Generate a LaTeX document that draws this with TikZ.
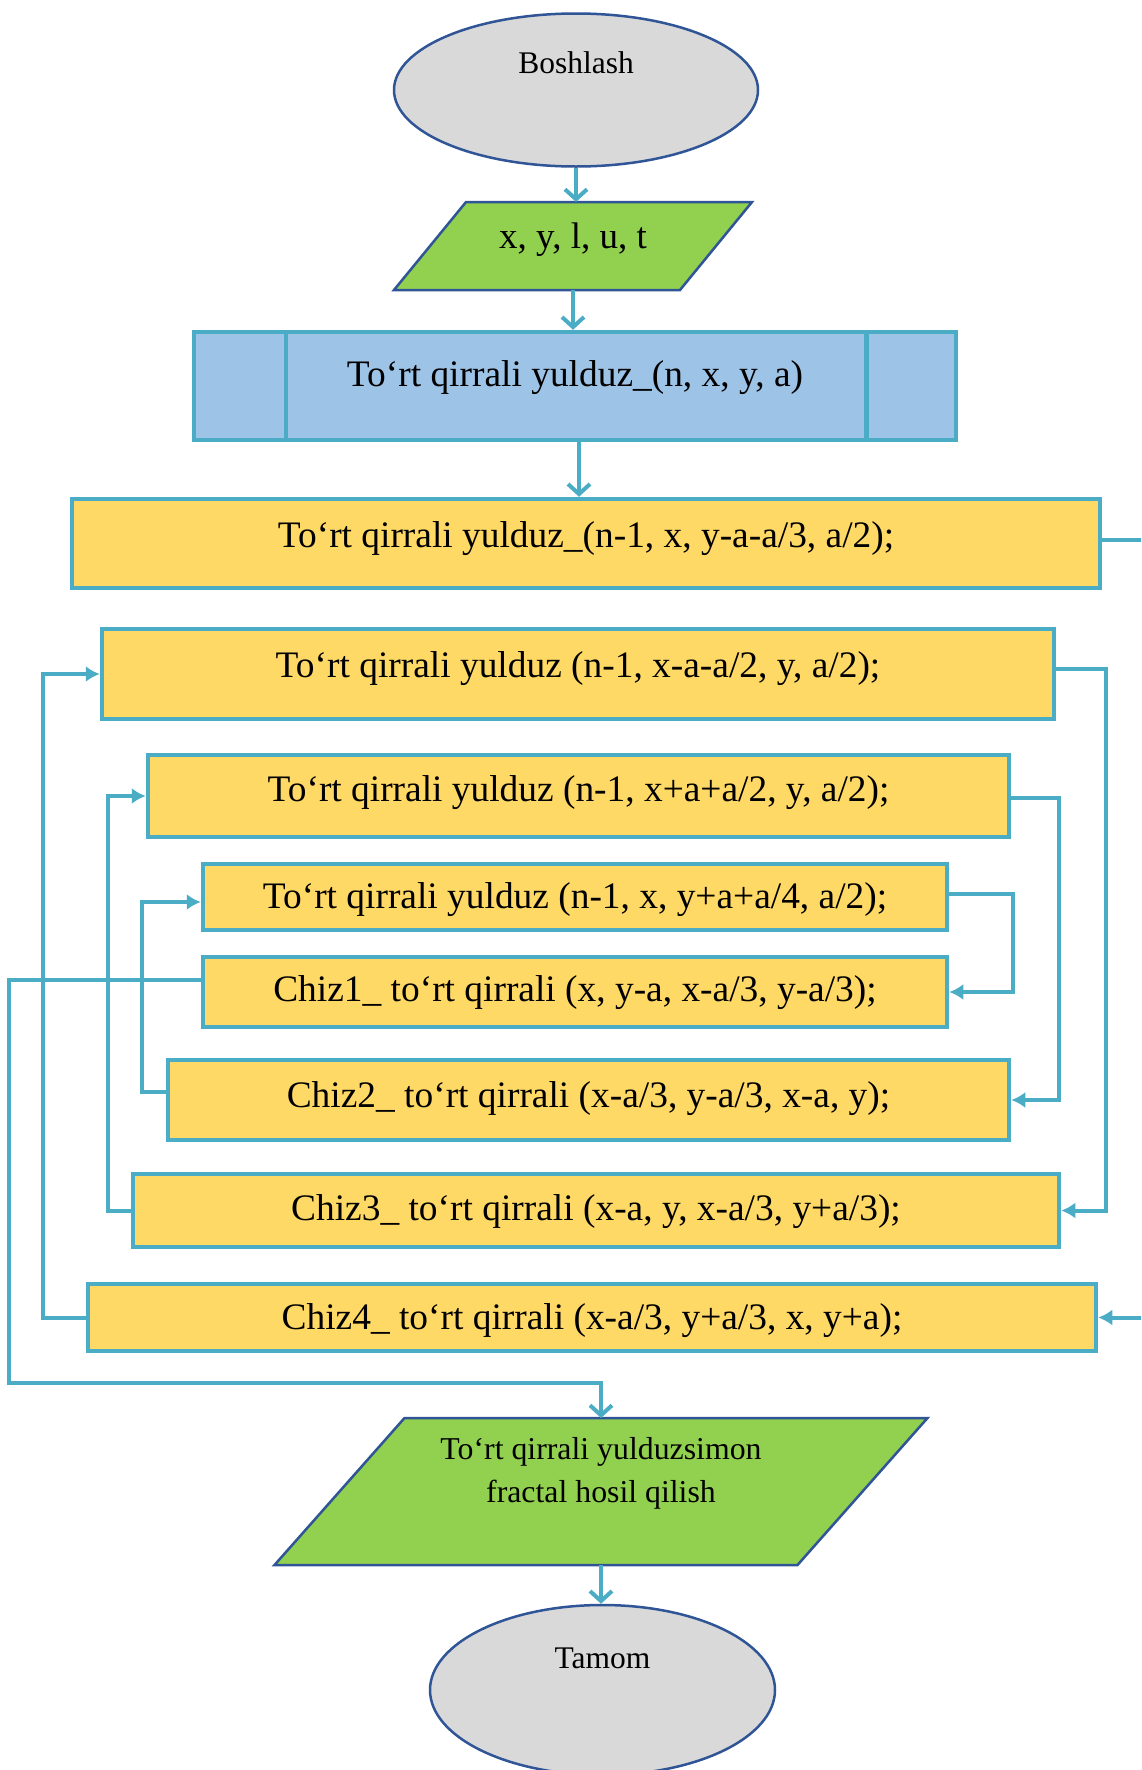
\documentclass[tikz,border=0pt]{standalone}
\usepackage{fontspec}
\setmainfont{Liberation Serif}
\usetikzlibrary{shapes.geometric,arrows.meta,calc,backgrounds}

\definecolor{frameblue}{HTML}{2F5597}
\definecolor{wireteal}{HTML}{4BACC6}
\definecolor{termgray}{HTML}{D9D9D9}
\definecolor{iogreen}{HTML}{92D050}
\definecolor{subblue}{HTML}{9DC3E6}
\definecolor{callyellow}{HTML}{FFD966}

\begin{document}
\begin{tikzpicture}[x=1pt, y=-1pt,
    terminal/.style={ellipse, draw=frameblue, line width=2.5pt, fill=termgray,
      inner sep=0pt, font=\fontsize{31.5}{38}\selectfont},
    iobox/.style={rectangle, inner sep=0pt, outer sep=0pt},
    ioframe/.style={draw=frameblue, line width=2.5pt, fill=iogreen, line join=miter},
    subproc/.style={rectangle, draw=wireteal, line width=4.5pt, fill=subblue,
      inner sep=0pt, font=\fontsize{37.4}{45}\selectfont},
    callbox/.style={rectangle, draw=wireteal, line width=4.5pt, fill=callyellow,
      inner sep=0pt, font=\fontsize{37.4}{45}\selectfont,
      text height=25pt, text depth=6pt},
    wire/.style={draw=wireteal, line width=4pt, -{Latex[length=14pt,width=16pt]}},
    flow/.style={draw=wireteal, line width=4pt, -{Straight Barb[length=10pt,width=22pt]}}]

    \useasboundingbox (0,0) rectangle (1141,1770);
    \clip (0,0) rectangle (1141,1770);

    % start, input, subroutine head
    \node[terminal, minimum width=364pt, minimum height=153pt,
          text height=22pt, text depth=56pt] (start) at (576,90) {Boshlash};
    \node[iobox, minimum width=286pt, minimum height=88pt,
          font=\fontsize{37}{43}\selectfont, text height=24pt, text depth=20pt]
          (inp) at (573,246) {x, y, l, u, t};
    \node[subproc, minimum width=762pt, minimum height=108pt,
          text height=25pt, text depth=25pt] (sub) at (575,386)
          {To‘rt qirrali yulduz\_(n, x, y, a)};
    \draw[wireteal, line width=4.5pt]
          ($(sub.north west)+(94,0)$) -- ($(sub.south west)+(94,0)$)
          ($(sub.north east)+(-92,0)$) -- ($(sub.south east)+(-92,0)$);

    % recursive calls
    \node[callbox, minimum width=1028pt, minimum height=89pt, text depth=18pt]
          (r1) at (586,543.5) {To‘rt qirrali yulduz\_(n-1, x, y-a-a/3, a/2);};
    \node[callbox, minimum width=952pt, minimum height=90pt, text depth=18pt]
          (r2) at (578,674) {To‘rt qirrali yulduz (n-1, x-a-a/2, y, a/2);};
    \node[callbox, minimum width=861pt, minimum height=82pt, text depth=14pt]
          (r3) at (578.5,796) {To‘rt qirrali yulduz (n-1, x+a+a/2, y, a/2);};
    \node[callbox, minimum width=744pt, minimum height=66pt, text depth=2pt]
          (r4) at (575,897) {To‘rt qirrali yulduz (n-1, x, y+a+a/4, a/2);};

    % drawing calls
    \node[callbox, minimum width=744pt, minimum height=70pt] (c1) at (575,992)
          {Chiz1\_ to‘rt qirrali (x, y-a, x-a/3, y-a/3);};
    \node[callbox, minimum width=841pt, minimum height=80pt, text depth=10pt]
          (c2) at (588.5,1100) {Chiz2\_ to‘rt qirrali (x-a/3, y-a/3, x-a, y);};
    \node[callbox, minimum width=926pt, minimum height=73pt] (c3) at (596,1210.5)
          {Chiz3\_ to‘rt qirrali (x-a, y, x-a/3, y+a/3);};
    \node[callbox, minimum width=1008pt, minimum height=67pt, text depth=2pt]
          (c4) at (592,1317.5) {Chiz4\_ to‘rt qirrali (x-a/3, y+a/3, x, y+a);};

    % output and end
    \node[iobox, minimum width=523pt, minimum height=147pt,
          align=center, font=\fontsize{31.8}{43}\selectfont, text depth=44pt]
          (out) at (601,1491.5) {To‘rt qirrali yulduzsimon\\fractal hosil qilish};
    \node[terminal, minimum width=345pt, minimum height=170pt,
          text height=22pt, text depth=66pt] (stop) at (602.5,1690) {Tamom};

    % slanted frames behind the two data nodes
    \begin{scope}[on background layer]
      \draw[ioframe] ($(inp.north west)+(36,0)$) -- ($(inp.north east)+(36,0)$)
            -- ($(inp.south east)+(-36,0)$) -- ($(inp.south west)+(-36,0)$) -- cycle;
      \draw[ioframe] ($(out.north west)+(65,0)$) -- ($(out.north east)+(65,0)$)
            -- ($(out.south east)+(-65,0)$) -- ($(out.south west)+(-65,0)$) -- cycle;
    \end{scope}

    % main flow
    \draw[flow] (start.south) -- (start.south |- inp.north);
    \draw[flow] (inp.south) -- (inp.south |- sub.north);
    \draw[flow] ($(sub.south)+(4,0)$) -- ($(sub.south |- r1.north)+(4,0)$);

    % right side links
    \draw[wire] ($(r1.east)+(0,-4)$) -- ++(80,0) |- (c4.east);
    \draw[wire] ($(r2.east)+(0,-5)$) -- ++(50,0) |- (c3.east);
    \draw[wire] ($(r3.east)+(0,2)$) -- ++(48,0) |- (c2.east);
    \draw[wire] ($(r4.east)+(0,-3)$) -- ++(64,0) |- (c1.east);

    % left side links
    \draw[wire] (c4.west) -- ++(-43,0) |- (r2.west);
    \draw[wire] (c3.west) -- ++(-23,0) |- (r3.west);
    \draw[wire] ($(c2.west)+(0,-8)$) -- ++(-24,0) |- ($(r4.west)+(0,5)$);

    % exit to output
    \coordinate (lowbend) at (9,1383);
    \draw[flow] ($(c1.west)+(0,-12)$) -| (lowbend) -| (out.north);
    \draw[flow] (out.south) -- (out.south |- stop.north);
\end{tikzpicture}
\end{document}
